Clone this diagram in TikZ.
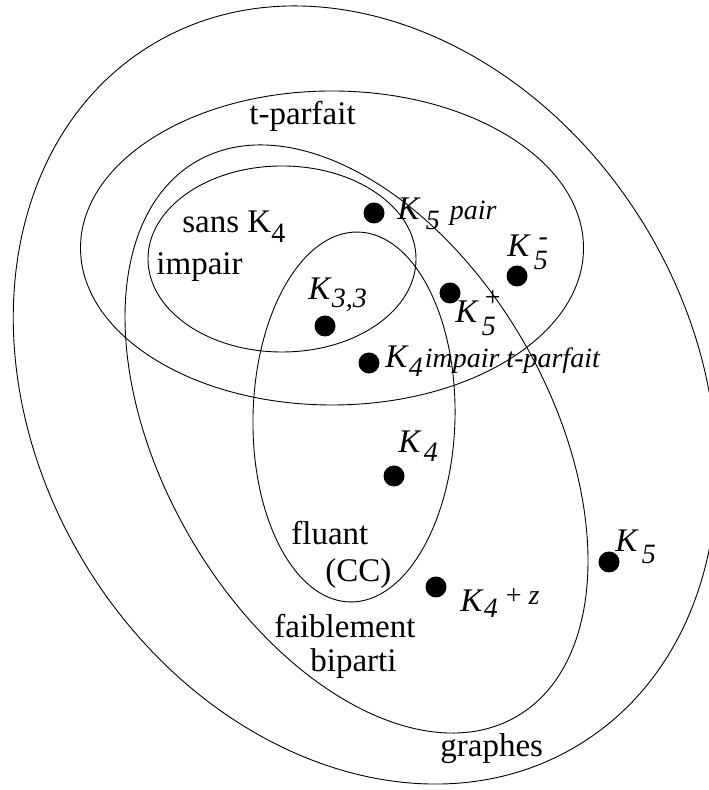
\documentclass[tikz,border=0pt]{standalone}
\usepackage{fontspec}
\setmainfont{Liberation Serif}
\newcommand\subsz{\fontsize{14}{16}\selectfont}
\begin{document}
\begin{tikzpicture}[x=0.5pt,y=0.5pt,
  set/.style={line width=0.45pt},
  dot/.style={circle,fill=black,inner sep=0pt,minimum size=10.5pt},
  lbl/.style={anchor=base west,inner sep=0pt,font=\fontsize{16.5}{20}\selectfont}]
\useasboundingbox (0,0) rectangle (708,790);
% sets
\draw[set,rotate around={-58.4:(365,395)}] (365,395) ellipse [x radius=410,y radius=327];
\draw[set] (332,542) ellipse [x radius=251.5,y radius=157];
\draw[set,rotate around={-60.1:(356.5,351)}] (356.5,351) ellipse [x radius=320.4,y radius=193.3];
\draw[set] (282,531) ellipse [x radius=134,y radius=93];
\draw[set,rotate around={-1.3:(354,373)}] (354,373) ellipse [x radius=101,y radius=185];
% set labels
\node[lbl] (tparf) at (249,665) {t-parfait};
\node[lbl] (sans) at (182,557) {sans K\raisebox{-5pt}{\subsz 4}};
\node[lbl] (imp) at (156,515) {impair};
\node[lbl] (flu) at (291,245) {fluant};
\node[lbl] (cc) at (325,208) {(CC)};
\node[lbl] (faib) at (274,152) {faiblement};
\node[lbl] (bip) at (310,118) {biparti};
\node[lbl] (gra) at (440,33) {graphes};
% dots
\node[dot] (d5pair) at (374,577) {};
\node[dot] (d33) at (325,464) {};
\node[dot] (d4imp) at (369,427) {};
\node[dot] (d5plus) at (450,497) {};
\node[dot] (d5minus) at (517,514) {};
\node[dot] (d4) at (394,314) {};
\node[dot] (d5) at (609,228) {};
\node[dot] (d4z) at (436,203) {};
% dot labels
\node[lbl] (l5pair) at (397,570) {\textit{K}\kern2.5pt\raisebox{-5pt}{\subsz\textit{5}}\kern5pt{\subsz\textit{pair}}};
\node[lbl] (l33) at (308,490) {\textit{K}\raisebox{-4pt}{\subsz\textit{3,3}}};
\node[lbl] (l5minus) at (507,533) {\textit{K}\kern1.5pt\raisebox{-6.5pt}{\subsz\textit{5}}\llap{\raisebox{5.5pt}{\subsz -}}};
\node[lbl] (l5plus) at (455,467) {\textit{K}\kern1.5pt\rlap{\raisebox{-6.5pt}{\subsz\textit{5}}}\kern1.5pt\raisebox{8pt}{\subsz +}};
\node[lbl] (l4imp) at (385,422) {\textit{K}\raisebox{-4.5pt}{\subsz\textit{4}}\kern1pt{\subsz\textit{impair t-parfait}}};
\node[lbl] (l4) at (398,337) {\textit{K}\kern1pt\raisebox{-4.5pt}{\subsz\textit{4}}};
\node[lbl] (l5) at (615,238) {\textit{K}\kern1.5pt\raisebox{-6pt}{\subsz\textit{5}}};
\node[lbl] (l4z) at (460,178) {\textit{K}\raisebox{-3pt}{\subsz\textit{4}}\kern4pt\raisebox{3.5pt}{\subsz + \textit{z}}};
\end{tikzpicture}
\end{document}
